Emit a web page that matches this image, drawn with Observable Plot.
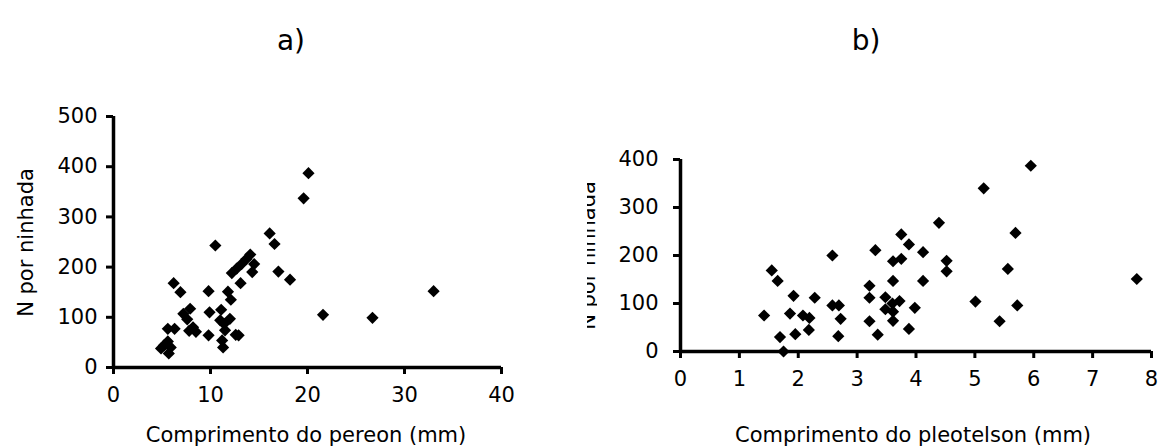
<!DOCTYPE html>
<html>
<head>
<meta charset="utf-8">
<script src="https://cdn.jsdelivr.net/npm/d3@7"></script>
<script src="https://cdn.jsdelivr.net/npm/@observablehq/plot@0.6"></script>
<style>
  html, body { margin: 0; padding: 0; background: white; }
  #chart { position: relative; width: 1160px; height: 448px; overflow: hidden; background: white; font-family: "DejaVu Sans", sans-serif; color: black; }
  .panel { position: absolute; top: 0; }
  .txt { position: absolute; white-space: nowrap; line-height: 1; color: black; font-family: "DejaVu Sans", sans-serif; }
</style>
</head>
<body>
<div id="chart"></div>
<script>
// Panel a) — comprimento do pereon (mm) vs N por ninhada
const pereonLength = [20.1, 19.6, 16.1, 16.6, 10.5, 17.0, 18.2, 21.6, 26.7, 33.0,
  14.1, 13.7, 13.2, 12.7, 12.2, 14.5, 14.3, 13.1,
  6.2, 6.9, 9.8, 11.8, 12.1,
  7.9, 7.2, 7.6, 9.9, 11.1, 12.0, 11.0, 11.4,
  5.6, 6.3, 8.2, 8.5, 7.8, 9.8, 11.5, 12.6, 12.9, 11.2, 11.3,
  5.2, 5.9, 5.7, 5.6, 4.9];
const broodPereon = [387, 337, 267, 246, 243, 191, 175, 105, 99, 152,
  225, 216, 206, 197, 188, 206, 190, 168,
  168, 150, 152, 151, 135,
  117, 107, 96, 110, 115, 97, 94, 87,
  77, 77, 80, 71, 73, 64, 74, 65, 64, 54, 40,
  44, 40, 28, 52, 38];

// Panel b) — comprimento do pleotelson (mm) vs N por ninhada
const pleotelsonLength = [5.95, 5.15, 4.39, 5.69, 3.75, 3.88, 3.31, 4.12, 2.58, 3.61, 3.75, 4.52, 4.52, 5.56, 7.75,
  3.61, 4.12, 3.21, 3.21, 3.48, 3.72, 3.60, 3.48, 3.61, 3.98, 5.01, 5.72, 2.58, 2.69, 2.72,
  3.21, 3.61, 5.42, 2.68, 3.35, 3.88,
  1.55, 1.65, 1.92, 2.28, 1.42, 1.86, 2.08, 2.19, 2.18, 1.95, 1.69, 1.75];
const broodPleotelson = [387, 340, 268, 247, 244, 223, 211, 207, 200, 188, 193, 189, 167, 172, 151,
  147, 147, 137, 112, 113, 105, 100, 88, 83, 91, 104, 96, 96, 96, 68,
  63, 64, 63, 32, 35, 47,
  169, 147, 116, 112, 75, 79, 75, 70, 45, 36, 30, 0];

const ticksAX = [0, 10, 20, 30, 40];
const ticksAY = [0, 100, 200, 300, 400, 500];
const ticksBX = [0, 1, 2, 3, 4, 5, 6, 7, 8];
const ticksBY = [0, 100, 200, 300, 400];

const titleA = "a)";
const titleB = "b)";
const xLabelA = "Comprimento do pereon (mm)";
const xLabelB = "Comprimento do pleotelson (mm)";
const yLabel = "N por ninhada";

const pointsA = pereonLength.map((x, i) => ({x, y: broodPereon[i]}));
const pointsB = pleotelsonLength.map((x, i) => ({x, y: broodPleotelson[i]}));

const FONT = 21;

function panel({points, xDomain, yDomain, xTicks, yTicks, width, height, margins, yPad}) {
  return Plot.plot({
    width, height,
    marginLeft: margins[0], marginRight: margins[1], marginTop: margins[2], marginBottom: margins[3],
    style: {fontFamily: "DejaVu Sans, sans-serif", color: "black", background: "white", overflow: "visible"},
    x: {domain: xDomain},
    y: {domain: yDomain},
    marks: [
      Plot.axisX({ticks: xTicks, tickSize: 7, tickPadding: 13, strokeWidth: 3, fontSize: FONT, label: null, tickFormat: d => String(d)}),
      Plot.axisY({ticks: yTicks, tickSize: 7, tickPadding: yPad, strokeWidth: 3, fontSize: FONT, label: null, tickFormat: d => String(d)}),
      Plot.ruleY([yDomain[0]], {strokeWidth: 3.5}),
      Plot.ruleX([xDomain[0]], {strokeWidth: 3.5}),
      Plot.dot(points, {x: "x", y: "y", symbol: "diamond2", r: 5.5, fill: "black", stroke: "none"})
    ]
  });
}

const chart = document.getElementById("chart");

const plotA = panel({points: pointsA, xDomain: [0, 40], yDomain: [0, 500], xTicks: ticksAX, yTicks: ticksAY,
  width: 580, height: 448, margins: [113, 79, 116, 81], yPad: 9});
const wrapA = document.createElement("div");
wrapA.className = "panel"; wrapA.style.left = "0px";
wrapA.appendChild(plotA);
chart.appendChild(wrapA);

const plotB = panel({points: pointsB, xDomain: [0, 8], yDomain: [0, 400], xTicks: ticksBX, yTicks: ticksBY,
  width: 580, height: 448, margins: [100, 9, 159, 97], yPad: 15});
const wrapB = document.createElement("div");
wrapB.className = "panel"; wrapB.style.left = "580px";
wrapB.appendChild(plotB);
chart.appendChild(wrapB);

// text helper: place by baseline (DejaVu Sans: baseline ≈ top + 0.846em with line-height 1)
function addText(str, size, cx, baseline) {
  const d = document.createElement("div");
  d.className = "txt";
  d.textContent = str;
  d.style.fontSize = size + "px";
  d.style.left = cx + "px";
  d.style.top = (baseline - 0.846 * size) + "px";
  d.style.transform = "translateX(-50%)";
  chart.appendChild(d);
  return d;
}
addText(titleA, 28, 291, 51);
addText(titleB, 28, 866, 51);
addText(xLabelA, FONT, 306, 443);
addText(xLabelB, FONT, 913, 443);

// rotated y label: centre at (cx, cy); baseline lies 0.346em right of centre
function addYLabel(str, size, baselineX, cy, parent) {
  const d = document.createElement("div");
  d.className = "txt";
  d.textContent = str;
  d.style.fontSize = size + "px";
  const cx = baselineX - 0.346 * size;
  d.style.left = cx + "px";
  d.style.top = (cy - size / 2) + "px";
  d.style.transform = "translateX(-50%) rotate(-90deg)";
  d.style.transformOrigin = "50% 50%";
  (parent || chart).appendChild(d);
  return d;
}
addYLabel(yLabel, FONT, 33, 242);

// panel b's y label is cut off in the original: only a thin sliver shows
const clip = document.createElement("div");
clip.style.position = "absolute";
clip.style.left = "587px";
clip.style.top = "150px";
clip.style.width = "10px";
clip.style.height = "210px";
clip.style.overflow = "hidden";
chart.appendChild(clip);
addYLabel(yLabel, FONT, 595 - 587, 255 - 150, clip);
</script>
</body>
</html>
